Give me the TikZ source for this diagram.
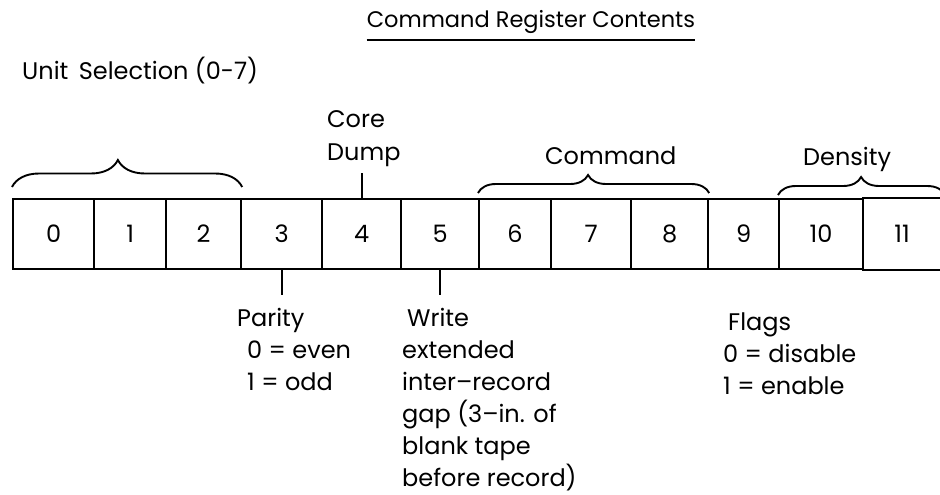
\documentclass[tikz,border=0pt]{standalone}
\usepackage{fontspec}
\setmainfont{Poppins}
\usetikzlibrary{decorations.pathreplacing}
\begin{document}
\begin{tikzpicture}[x=1pt,y=-1pt,
  cell/.style={draw, line width=2.2pt, minimum height=70pt, inner sep=0pt, anchor=north west,
    font=\fontsize{24}{24}\selectfont},
  lbl/.style={inner sep=0pt, align=left, anchor=north west, font=\fontsize{24}{32}\selectfont},
  brc/.style={decorate, decoration={brace, amplitude=#1, aspect=\braceaspect}, line width=1.9pt},
  tickline/.style={line width=1.9pt}]
\useasboundingbox[fill=white] (0,0) rectangle (940,495);
\def\braceaspect{0.5}
% title
\node[anchor=base, inner sep=0pt, font=\fontsize{22.5}{22.5}\selectfont] (title) at (531,28) {Command Register Contents};
\draw[line width=1.6pt] ([yshift=-12pt]title.base west) -- ([yshift=-12pt]title.base east);
\node[anchor=base west, inner sep=0pt, font=\fontsize{24}{24}\selectfont] (unit) at (22,80) {Unit\, Selection (0-7)};
% cells
\node[cell, minimum width=81pt] (c0) at (12,198) {0};
\node[cell, minimum width=72pt] (c1) at (93,198) {1};
\node[cell, minimum width=75pt] (c2) at (165,198) {2};
\node[cell, minimum width=81pt] (c3) at (240,198) {3};
\node[cell, minimum width=79pt] (c4) at (321,198) {4};
\node[cell, minimum width=78pt] (c5) at (400,198) {5};
\node[cell, minimum width=72pt] (c6) at (478,198) {6};
\node[cell, minimum width=80pt] (c7) at (550,198) {7};
\node[cell, minimum width=77pt] (c8) at (630,198) {8};
\node[cell, minimum width=71pt] (c9) at (707,198) {9};
\node[cell, minimum width=84pt] (c10) at (778,198) {10};
\node[cell, draw=none, minimum width=78pt] (c11) at (862,198) {11};
\draw[line width=2.2pt] (c11.north west) -- ([xshift=12pt]c11.north east);
\draw[line width=2.2pt] (c11.south west) -- ([xshift=12pt]c11.south east);
% braces
\def\braceaspect{0.46}
\draw[brc=27] ([yshift=11pt]c0.north west) -- ([yshift=11pt]c2.north east);
\def\braceaspect{0.476}
\draw[brc=18] ([yshift=5pt]c6.north west) -- ([yshift=5pt]c8.north east);
\def\braceaspect{0.497}
\draw[brc=18] ([yshift=3pt]c10.north west) -- ([xshift=3pt,yshift=3pt]c11.north east);
% upper labels
\node[lbl, font=\fontsize{24}{33}\selectfont] (core) at (327,110) {Core\\Dump};
\node[anchor=base west, inner sep=0pt, font=\fontsize{24}{24}\selectfont] (cmd) at (545,164) {Command};
\node[anchor=base west, inner sep=0pt, font=\fontsize{24}{24}\selectfont] (dens) at (803,165) {Density};
\coordinate (coretick) at (359,173);
\draw[tickline] (c4.north) -- (c4.north |- coretick);
% lower labels
\node[lbl] (parity) at (237,308) {Parity\\\hspace*{10pt}0 = even\\\hspace*{10pt}1 = odd};
\node[lbl] (write) at (402,308) {\hspace*{5pt}Write\\extended\\inter–record\\gap (3–in. of\\blank tape\\before record)};
\node[lbl] (flags) at (723,313) {\hspace*{5pt}Flags\\0 = disable\\1 = enable};
\coordinate (paritytick) at (278,295);
\coordinate (writetick) at (438,295);
\draw[tickline] (c3.south) -- (c3.south |- paritytick);
\draw[tickline] (c5.south) -- (c5.south |- writetick);
\end{tikzpicture}
\end{document}
